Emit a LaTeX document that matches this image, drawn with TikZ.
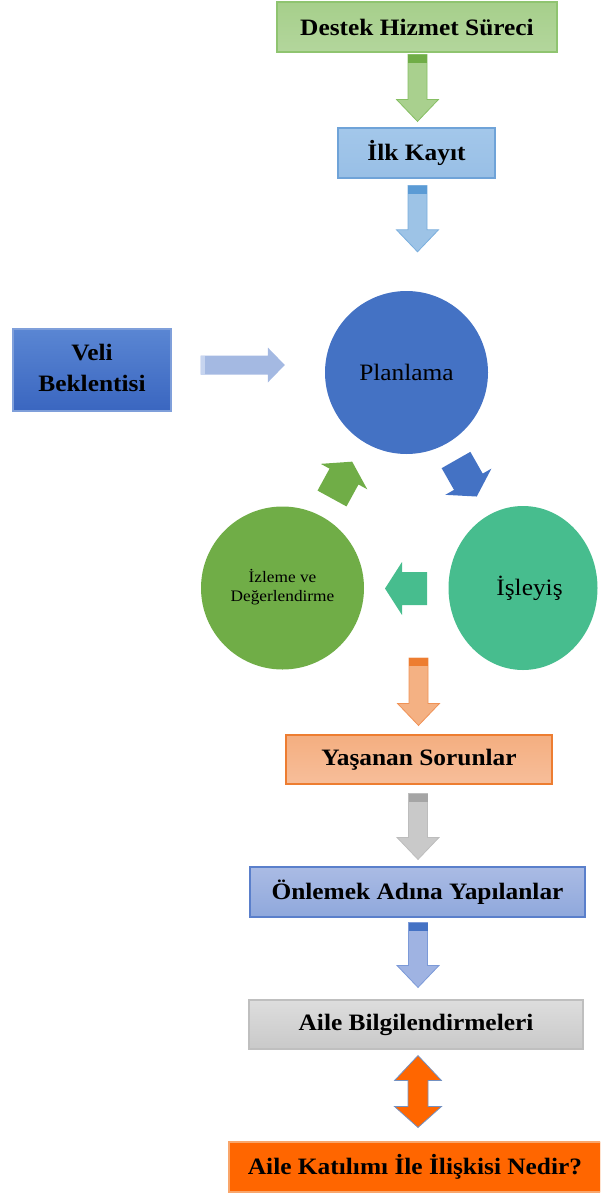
\documentclass[tikz,border=0pt]{standalone}
\usepackage{fontspec}
\setmainfont{Liberation Serif}
\usetikzlibrary{calc,shapes.geometric}
\newcommand\sx[1]{\scalebox{1.08}[1]{#1}}
\definecolor{gBoxT}{HTML}{A6CF8B}\definecolor{gBoxB}{HTML}{B3D69C}\definecolor{gBoxL}{HTML}{8FC470}
\definecolor{gArF}{HTML}{A9D08E}\definecolor{gArL}{HTML}{86BF63}\definecolor{gArS}{HTML}{70AD47}
\definecolor{bBoxT}{HTML}{A3C7EA}\definecolor{bBoxB}{HTML}{98BFE6}\definecolor{bBoxL}{HTML}{6FA3D8}
\definecolor{bArF}{HTML}{9DC3E6}\definecolor{bArL}{HTML}{7AAEDD}\definecolor{bArS}{HTML}{5B9BD5}
\definecolor{vBoxT}{HTML}{5A86D3}\definecolor{vBoxB}{HTML}{3A66C0}\definecolor{vBoxL}{HTML}{7F9FDA}
\definecolor{vAr}{HTML}{A4B9E2}\definecolor{vArS}{HTML}{C6D4EF}
\definecolor{cBlue}{HTML}{4472C4}\definecolor{cTeal}{HTML}{47BD8E}\definecolor{cGreen}{HTML}{70AD47}
\definecolor{oArF}{HTML}{F4B183}\definecolor{oArL}{HTML}{F09256}\definecolor{oArS}{HTML}{ED7D31}
\definecolor{oBoxT}{HTML}{F4AE80}\definecolor{oBoxB}{HTML}{F7BE9A}\definecolor{oBoxL}{HTML}{ED7D31}
\definecolor{grArF}{HTML}{C9C9C9}\definecolor{grArL}{HTML}{BDBDBD}\definecolor{grArS}{HTML}{A5A5A5}
\definecolor{pBoxT}{HTML}{AABBE4}\definecolor{pBoxB}{HTML}{8FA8DC}\definecolor{pBoxL}{HTML}{5A7FCB}
\definecolor{pArF}{HTML}{9FB3E2}\definecolor{pArL}{HTML}{7C9AD8}\definecolor{pArS}{HTML}{4472C4}
\definecolor{sBoxT}{HTML}{DDDDDD}\definecolor{sBoxB}{HTML}{C9C9C9}\definecolor{sBoxL}{HTML}{BFBFBF}
\definecolor{orng}{HTML}{FF6600}\definecolor{dArL}{HTML}{7391C2}\definecolor{kBoxL}{HTML}{F9A66B}
% vertical block arrow: #1 top point, #2 tip point, #3 fill, #4 outline, #5 strip
\newcommand\varrow[5]{%
  \path[fill=#3,draw=#4,line width=0.8pt] let \p1=#1, \p2=#2 in
    (\x1-9.5pt,\y1) -- (\x1+9.5pt,\y1) -- (\x1+9.5pt,\y2+22pt) -- (\x1+21pt,\y2+22pt)
    -- (\x1,\y2) -- (\x1-21pt,\y2+22pt) -- (\x1-9.5pt,\y2+22pt) -- cycle;
  \path[fill=#5] let \p1=#1 in (\x1-9.5pt,\y1) rectangle (\x1+9.5pt,\y1-8pt);
}
% cycle block arrow in local frame (tail centre at origin, pointing along +x)
\newcommand\cyclearrow[3]{%
  \begin{scope}[shift={#1},rotate=#2]
    \fill[#3] (0,-16.5) -- (25,-16.5) -- (25,-26.5) -- (42,0) -- (25,26.5) -- (25,16.5) -- (0,16.5) -- cycle;
  \end{scope}
}
\tikzset{
  box/.style={line width=1.1pt, minimum height=50, inner sep=0, text=black,
    font=\fontsize{23.5}{31}\selectfont\bfseries},
  ball/.style={circle, minimum size=163, inner sep=0, text=black,
    font=\fontsize{23.5}{28}\selectfont},
}
\begin{document}
\begin{tikzpicture}[x=1pt,y=-1pt]
\useasboundingbox (0,0) rectangle (600,1193);
\begin{scope}
\clip (0,0) rectangle (600,1193);
% boxes
\node[box, minimum width=280, top color=gBoxT, bottom color=gBoxB, draw=gBoxL] (destek) at (417,27) {\sx{Destek Hizmet Süreci}};
\node[box, minimum width=157, top color=bBoxT, bottom color=bBoxB, draw=bBoxL] (ilk) at (416.5,153) {\sx{İlk Kayıt}};
\node[box, minimum width=158, minimum height=82, top color=vBoxT, bottom color=vBoxB, draw=vBoxL] (veli) at (92,370)
  {\sx{\begin{tabular}{@{}c@{}}Veli\\Beklentisi\end{tabular}}};
% circles
\node[ball, fill=cBlue] (plan) at (406.5,372.5) {\sx{Planlama}};
\node[ball, fill=cGreen, font=\fontsize{16}{19}\selectfont] (izleme) at (282.5,588)
  {\sx{\begin{tabular}{@{}c@{}}İzleme ve\\Değerlendirme\end{tabular}}};
\node[ellipse, minimum width=149, minimum height=164, inner sep=0, fill=cTeal] (isleyis) at (523,588) {};
\node[font=\fontsize{23.5}{28}\selectfont, text=black, inner sep=0] (isleyisT) at (529.5,588) {\sx{İşleyiş}};
% cycle arrows
\coordinate (gtail) at (332,498.5);
\coordinate (btail) at (456,460);
\coordinate (ttail) at (427,588.5);
\cyclearrow{(gtail)}{61.3}{cGreen}
\cyclearrow{(btail)}{-60.4}{cBlue}
\cyclearrow{(ttail)}{180}{cTeal}
% veli arrow
\path[fill=vAr] let \p1=($(veli.east)+(29,-5)$), \p2=($(plan.west)+(-40,0)$) in
  (\x1,\y1+9.5pt) -- (\x2-17pt,\y1+9.5pt) -- (\x2-17pt,\y1+17.5pt) -- (\x2,\y1)
  -- (\x2-17pt,\y1-17.5pt) -- (\x2-17pt,\y1-9.5pt) -- (\x1,\y1-9.5pt) -- cycle;
\path[fill=vArS] let \p1=($(veli.east)+(29,-5)$) in (\x1,\y1+9.5pt) rectangle (\x1+4pt,\y1-9.5pt);
% lower boxes
\node[box, minimum width=266, minimum height=49, top color=oBoxT, bottom color=oBoxB, draw=oBoxL] (yasanan) at (419,759.5) {\sx{Yaşanan Sorunlar}};
\node[box, minimum width=335, top color=pBoxT, bottom color=pBoxB, draw=pBoxL] (onlemek) at (417.5,892) {\sx{Önlemek Adına Yapılanlar}};
\node[box, minimum width=334, minimum height=49, top color=sBoxT, bottom color=sBoxB, draw=sBoxL] (aileb) at (416,1024.5) {\sx{Aile Bilgilendirmeleri}};
\node[box, minimum width=372, fill=orng, draw=kBoxL] (ailek) at (415,1167) {\sx{Aile Katılımı İle İlişkisi Nedir?}};
% vertical arrows
\coordinate (cycbottom) at (418.5,658);
\varrow{($(destek.south)+(0.5,2)$)}{($(ilk.north)+(0,-6)$)}{gArF}{gArL}{gArS}
\varrow{($(ilk.south)+(1,7)$)}{($(plan.north)+(0,-39)$)}{bArF}{bArL}{bArS}
\varrow{(cycbottom)}{($(yasanan.north)+(0,-9)$)}{oArF}{oArL}{oArS}
\varrow{($(yasanan.south)+(-1,9)$)}{($(onlemek.north)+(0,-7)$)}{grArF}{grArL}{grArS}
\varrow{($(onlemek.south)+(0.5,5)$)}{($(aileb.north)+(0,-12)$)}{pArF}{pArL}{pArS}
% double arrow
\path[fill=orng, draw=dArL, line width=0.8pt] let \p1=($(aileb.south)+(2,6)$), \p2=($(ailek.north)+(0,-14)$) in
  (\x1,\y1) -- (\x1+23.5pt,\y1-25pt) -- (\x1+10pt,\y1-25pt) -- (\x1+10pt,\y2+21pt) -- (\x1+23.5pt,\y2+21pt)
  -- (\x1,\y2) -- (\x1-23.5pt,\y2+21pt) -- (\x1-10pt,\y2+21pt) -- (\x1-10pt,\y1-25pt) -- (\x1-23.5pt,\y1-25pt) -- cycle;
\end{scope}
\end{tikzpicture}
\end{document}
